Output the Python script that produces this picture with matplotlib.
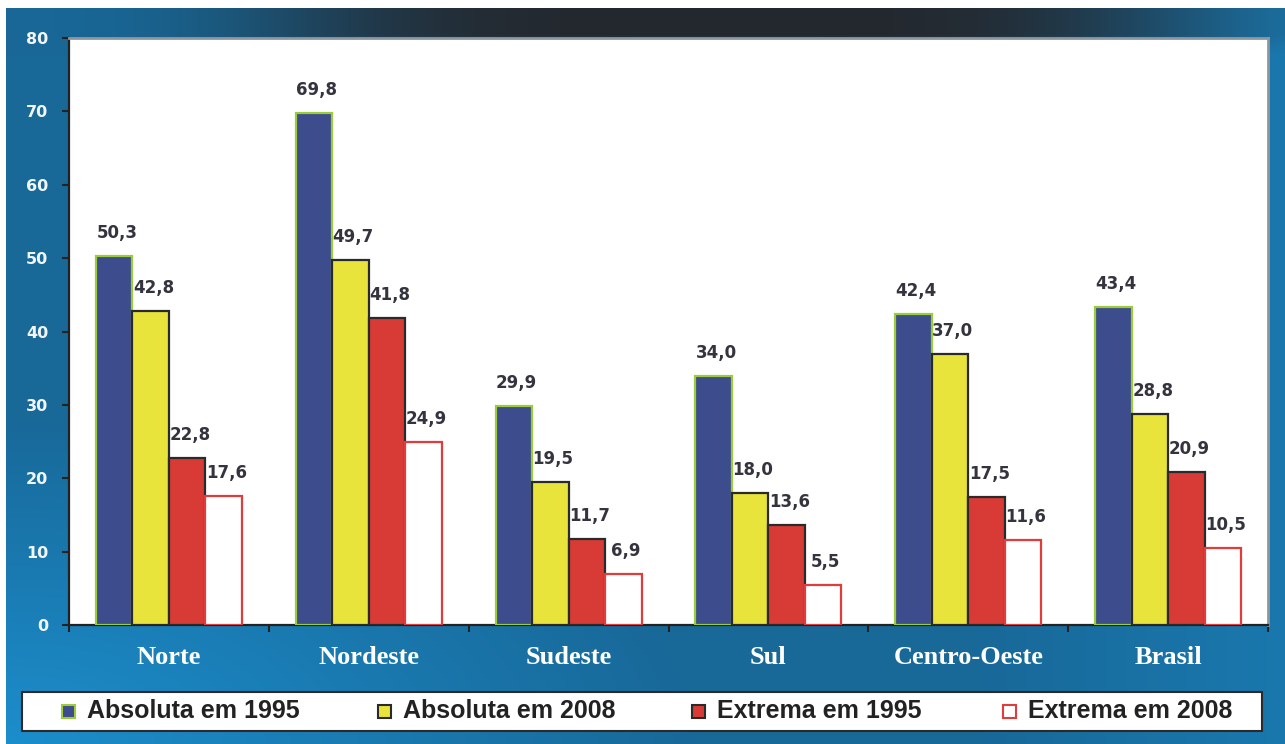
import numpy as np
import matplotlib.pyplot as plt
from matplotlib.patches import Rectangle

# pobreza por regiao (%)
regioes = ["Norte", "Nordeste", "Sudeste", "Sul", "Centro-Oeste", "Brasil"]
series = ["Absoluta em 1995", "Absoluta em 2008", "Extrema em 1995", "Extrema em 2008"]
absoluta_1995 = [50.3, 69.8, 29.9, 34.0, 42.4, 43.4]
absoluta_2008 = [42.8, 49.7, 19.5, 18.0, 37.0, 28.8]
extrema_1995 = [22.8, 41.8, 11.7, 13.6, 17.5, 20.9]
extrema_2008 = [17.6, 24.9, 6.9, 5.5, 11.6, 10.5]
yticks = [0, 10, 20, 30, 40, 50, 60, 70, 80]

valores = [absoluta_1995, absoluta_2008, extrema_1995, extrema_2008]
faces = ["#3c4c8c", "#e8e43c", "#d83a36", "#ffffff"]
edges = ["#9ccc3a", "#2a2a2a", "#2a2a2a", "#e03c3c"]

W, H = 1285, 744
fig = plt.figure(figsize=(W / 100, H / 100), dpi=100, facecolor="white")

# fundo azul com faixa escura no topo
bw, bh = W - 6, H - 8
xx, yy = np.meshgrid(np.arange(bw), np.arange(bh))
xn, yn = xx / bw, yy / bh
base = np.array([24, 104, 152], float)
img = np.ones((bh, bw, 3)) * base
glow = np.clip(1 - np.sqrt((xn / 0.55) ** 2 + ((yn - 1) / 0.45) ** 2), 0, 1)
img += glow[..., None] * np.array([4, 38, 52])
right = np.clip((xn - 0.75) / 0.25, 0, 1)
img += right[..., None] * np.array([2, 16, 22])
band = np.clip((48 - yy) / 22, 0, 1)
wx = np.exp(-((xx - 720) / 470) ** 4)
dark = band * wx
img = img * (1 - dark[..., None]) + np.array([36, 40, 46]) * dark[..., None]
bg = fig.add_axes([6 / W, 0, bw / W, bh / H])
bg.imshow(img.astype(np.uint8) / 255.0, aspect="auto", interpolation="bilinear")
bg.axis("off")

ax = fig.add_axes([69 / W, 1 - 625 / H, (1268 - 69) / W, (625 - 38) / H])
ax.set_facecolor("white")

n = len(regioes)
largura = 0.1825
centros = np.arange(n) + 0.5
for k, (vals, fc, ec) in enumerate(zip(valores, faces, edges)):
    pos = centros + (k - 1.5) * largura
    ax.bar(pos, vals, width=largura, color=fc, edgecolor=ec, linewidth=1.6, zorder=3)
    for x, v in zip(pos, vals):
        ax.annotate(f"{v:.1f}".replace(".", ","), (x, v), xytext=(2, 10),
                    textcoords="offset points", ha="center", va="bottom",
                    fontsize=12, fontweight="bold", color="#34343f",
                    family="DejaVu Sans")

ax.set_xlim(0, n)
ax.set_ylim(0, 80)
ax.set_yticks(yticks)
ax.set_yticklabels([str(t) for t in yticks])
ax.set_xticks(np.arange(n + 1))
ax.set_xticklabels([])
ax.set_xticks(centros, minor=True)
ax.set_xticklabels(regioes, minor=True)

ax.tick_params(axis="y", direction="out", length=5, width=1.5, color="#222222",
               pad=10, labelsize=11.5, labelcolor="#f2f5f8")
ax.tick_params(axis="x", which="major", direction="out", length=5, width=1.5,
               color="#222222")
ax.tick_params(axis="x", which="minor", length=0, pad=15, labelsize=19,
               labelcolor="white")
for lab in ax.get_yticklabels():
    lab.set_fontweight("bold")
    lab.set_family("DejaVu Sans")
for lab in ax.get_xticklabels(minor=True):
    lab.set_fontweight("bold")
    lab.set_family("Liberation Serif")

for s in ["left", "bottom"]:
    ax.spines[s].set_color("#222222")
    ax.spines[s].set_linewidth(1.6)
for s in ["top", "right"]:
    ax.spines[s].set_color("#8d979f")
    ax.spines[s].set_linewidth(2)

# legenda em caixa branca
fig.patches.append(Rectangle((22 / W, 1 - 731 / H), (1262 - 22) / W, 39 / H,
                             transform=fig.transFigure, facecolor="white",
                             edgecolor="#2a2a2a", linewidth=1.5, zorder=5))
leg_x = [62, 378, 692, 1003]
for x0, nome, fc, ec in zip(leg_x, series, faces, edges):
    fig.patches.append(Rectangle((x0 / W, 1 - 718 / H), 13 / W, 13 / H,
                                 transform=fig.transFigure, facecolor=fc,
                                 edgecolor=ec, linewidth=1.5, zorder=6))
    fig.text((x0 + 25) / W, 1 - 711.5 / H, nome, ha="left", va="center",
             fontsize=18, fontweight="bold", color="#222222",
             family="Liberation Sans", zorder=6)

fig.savefig("out.png", dpi=100, facecolor=fig.get_facecolor())
